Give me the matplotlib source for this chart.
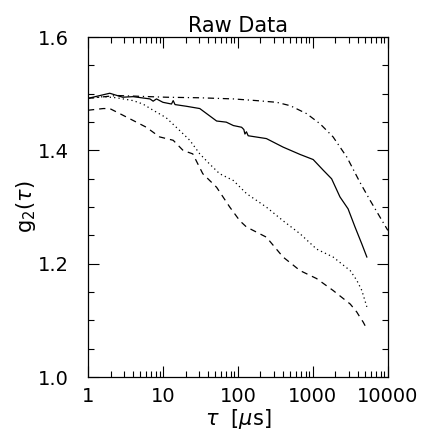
import numpy as np
import matplotlib
matplotlib.use('Agg')
import matplotlib.pyplot as plt
from matplotlib.ticker import FixedLocator, LogLocator, NullFormatter

plt.rcParams['font.family'] = 'DejaVu Sans'
plt.rcParams['mathtext.fontset'] = 'dejavusans'

# solid curve
tau_solid = [1, 1.95, 2.9, 4, 6.7, 7.4, 8.2, 10, 13, 13.7, 14.5, 20.6, 31, 52, 70, 87,
             112, 120, 124, 130, 137, 240, 400, 675, 1010, 1380, 1780, 2300, 2950, 3650, 4500, 5250]
g2_solid = [1.492, 1.501, 1.494, 1.495, 1.491, 1.487, 1.491, 1.485, 1.482, 1.488, 1.481,
            1.478, 1.474, 1.452, 1.450, 1.444, 1.441, 1.437, 1.429, 1.433, 1.426, 1.421,
            1.406, 1.393, 1.384, 1.365, 1.350, 1.318, 1.297, 1.265, 1.235, 1.212]

# dotted curve
tau_dot = [1, 1.6, 2.4, 4, 5.4, 7.4, 11, 16.8, 22.8, 31, 42, 57, 87, 130, 240, 400, 675,
           1120, 1860, 3150, 3850, 4500, 5250]
g2_dot = [1.492, 1.495, 1.493, 1.488, 1.482, 1.471, 1.458, 1.435, 1.418, 1.394, 1.376,
          1.359, 1.347, 1.324, 1.300, 1.276, 1.253, 1.226, 1.212, 1.188, 1.171, 1.153, 1.124]

# dashed curve
tau_dash = [1, 1.6, 1.95, 2.4, 4, 6, 9, 13.7, 18.6, 25, 34, 52, 78, 106, 130, 240, 400,
            675, 1120, 1860, 3150, 3850, 4240, 4700, 5250]
g2_dash = [1.471, 1.474, 1.474, 1.468, 1.453, 1.441, 1.424, 1.418, 1.400, 1.394, 1.359,
           1.335, 1.300, 1.276, 1.265, 1.247, 1.212, 1.188, 1.174, 1.153, 1.129, 1.115,
           1.106, 1.097, 1.085]

# dash-dot curve
tau_dd = [1, 2.4, 11, 31, 87, 178, 330, 500, 825, 1250, 1860, 2850, 4240, 5800, 10000]
g2_dd = [1.492, 1.497, 1.494, 1.493, 1.491, 1.488, 1.485, 1.479, 1.465, 1.447, 1.424,
         1.388, 1.344, 1.312, 1.259]

xticks = [1, 10, 100, 1000, 10000]
xticklabels = ['1', '10', '100', '1000', '10000']
yticks = [1.0, 1.2, 1.4, 1.6]
yticklabels = ['1.0', '1.2', '1.4', '1.6']

fig = plt.figure(figsize=(4.22, 4.32), dpi=100)
ax = fig.add_axes([0.2085, 0.127, 0.7105, 0.787])

lw = 0.9
ax.plot(tau_solid, g2_solid, color='black', lw=lw, ls='-')
ax.plot(tau_dot, g2_dot, color='black', lw=lw, ls=(0, (1, 2.5)))
ax.plot(tau_dash, g2_dash, color='black', lw=lw, ls=(0, (5, 4)))
ax.plot(tau_dd, g2_dd, color='black', lw=lw, ls=(0, (5, 3, 1, 3)))

ax.set_xscale('log')
ax.set_xlim(1, 10000)
ax.set_ylim(1.0, 1.6)
ax.set_xticks(xticks)
ax.set_xticklabels(xticklabels)
ax.xaxis.set_minor_locator(LogLocator(base=10, subs=np.arange(2, 10)))
ax.xaxis.set_minor_formatter(NullFormatter())
ax.set_yticks(yticks)
ax.set_yticklabels(yticklabels)
ax.yaxis.set_minor_locator(FixedLocator(np.arange(1.0, 1.601, 0.05)))

ax.tick_params(which='both', direction='in', top=True, right=True, width=0.8,
               labelsize=14)
ax.tick_params(axis='x', pad=7)
ax.tick_params(axis='y', pad=14)
ax.tick_params(which='major', length=8)
ax.tick_params(which='minor', length=4)
for s in ax.spines.values():
    s.set_linewidth(0.9)

ax.set_title('Raw Data', fontsize=15, pad=4)
ax.set_xlabel(r'$\tau$  [$\mu$s]', fontsize=15, labelpad=1)
ax.set_ylabel(r'g$_2$($\tau$)', fontsize=15, labelpad=0)

fig.savefig('out.png', dpi=100)
